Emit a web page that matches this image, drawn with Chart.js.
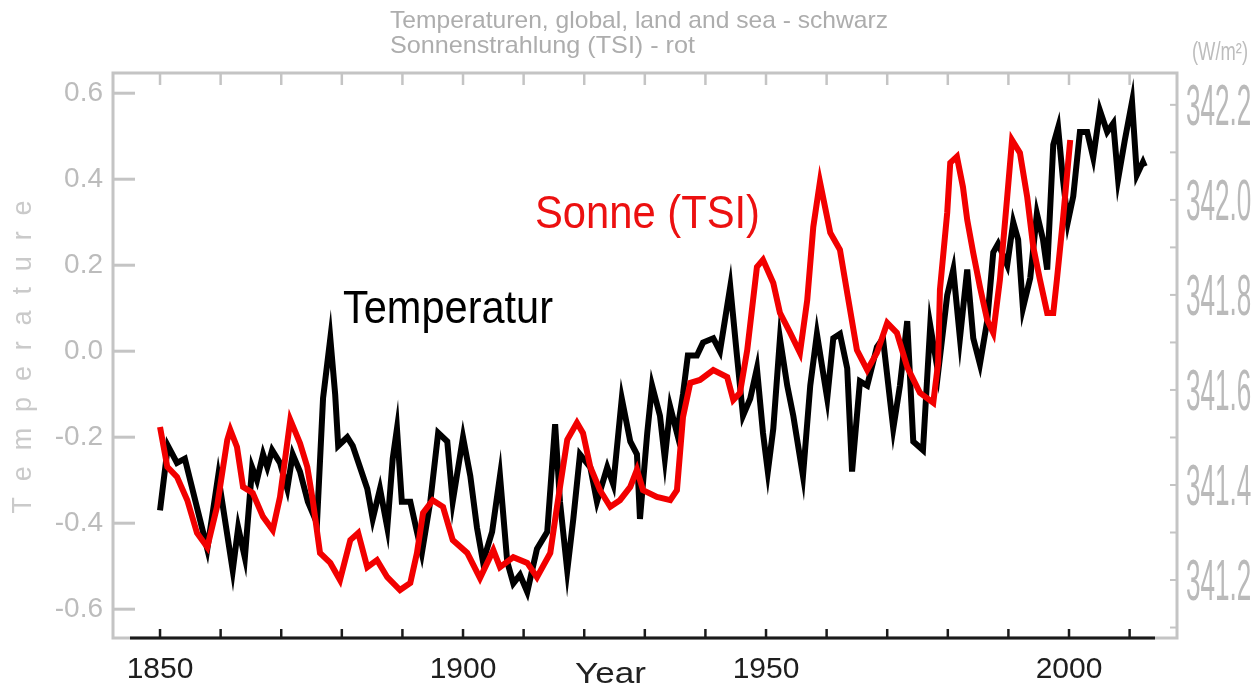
<!DOCTYPE html>
<html>
<head>
<meta charset="utf-8">
<script src="https://cdn.jsdelivr.net/npm/chart.js@4.4.1/dist/chart.umd.min.js"></script>
<style>
html,body{margin:0;padding:0;background:#fff;}
#wrap{width:1259px;height:689px;position:relative;}
</style>
</head>
<body>
<div id="wrap"><canvas id="c"></canvas></div>
<script>
// ---- data ----
const tempYears = [1850.0,1851.3,1852.8,1854.1,1857.8,1859.6,1862.0,1862.9,1864.0,1865.2,1866.0,1867.0,1867.7,1868.5,1869.8,1871.0,1871.9,1873.1,1874.4,1875.9,1876.9,1878.1,1878.9,1879.4,1880.9,1881.8,1883.0,1884.2,1885.1,1886.3,1887.5,1888.4,1889.1,1889.9,1891.3,1892.4,1893.2,1894.6,1895.9,1897.4,1898.3,1900.0,1901.2,1902.3,1903.3,1904.8,1906.1,1907.3,1908.3,1909.4,1910.6,1912.2,1913.9,1915.2,1916.0,1917.2,1918.2,1919.3,1921.0,1922.1,1923.8,1924.8,1926.2,1927.6,1928.7,1929.2,1930.4,1931.2,1932.5,1933.3,1934.2,1935.3,1936.3,1937.1,1938.6,1939.6,1941.3,1942.4,1944.1,1945.2,1946.2,1947.4,1948.5,1949.5,1950.3,1951.2,1952.3,1953.5,1954.5,1956.1,1957.3,1958.4,1960.1,1961.1,1962.2,1963.4,1964.2,1965.5,1966.7,1968.3,1969.3,1971.0,1972.1,1973.3,1974.3,1975.9,1977.1,1978.4,1979.9,1980.9,1982.0,1983.2,1984.2,1985.3,1986.5,1987.5,1988.3,1989.8,1990.8,1991.6,1992.4,1993.6,1994.7,1995.7,1996.4,1997.4,1998.2,1999.0,1999.8,2000.7,2001.8,2003.0,2004.0,2005.1,2006.3,2007.3,2008.1,2009.2,2010.4,2011.2,2012.2,2012.5];
const tempValues = [-0.37,-0.22,-0.26,-0.25,-0.46,-0.29,-0.51,-0.41,-0.48,-0.27,-0.30,-0.24,-0.27,-0.23,-0.26,-0.32,-0.24,-0.28,-0.35,-0.40,-0.11,0.03,-0.10,-0.22,-0.20,-0.22,-0.27,-0.32,-0.39,-0.32,-0.41,-0.25,-0.18,-0.35,-0.35,-0.42,-0.47,-0.35,-0.19,-0.21,-0.35,-0.20,-0.29,-0.41,-0.49,-0.42,-0.29,-0.49,-0.54,-0.52,-0.56,-0.46,-0.42,-0.17,-0.35,-0.51,-0.39,-0.24,-0.27,-0.35,-0.27,-0.31,-0.11,-0.21,-0.24,-0.39,-0.19,-0.08,-0.15,-0.25,-0.13,-0.19,-0.10,-0.01,-0.01,0.02,0.03,0.00,0.15,-0.01,-0.15,-0.11,-0.04,-0.19,-0.28,-0.18,0.03,-0.08,-0.15,-0.29,-0.08,0.04,-0.11,0.03,0.04,-0.04,-0.28,-0.07,-0.08,0.01,0.03,-0.18,-0.08,0.07,-0.21,-0.23,0.06,-0.05,0.13,0.19,0.03,0.19,0.03,-0.03,0.07,0.23,0.25,0.20,0.30,0.26,0.10,0.17,0.32,0.26,0.19,0.48,0.52,0.40,0.30,0.36,0.51,0.51,0.45,0.56,0.51,0.53,0.40,0.49,0.58,0.41,0.44,0.43];

const tsiYears = [1850.0,1851.2,1852.8,1854.5,1856.1,1857.8,1859.4,1861.1,1861.6,1862.7,1863.7,1865.3,1867.0,1868.6,1869.8,1871.5,1873.1,1874.3,1875.2,1876.4,1878.1,1879.7,1881.4,1882.7,1884.2,1885.8,1887.5,1889.6,1891.3,1892.4,1893.4,1895.0,1896.7,1898.3,1900.7,1902.8,1905.0,1906.1,1908.3,1910.6,1912.2,1914.4,1915.5,1917.2,1918.8,1919.8,1921.0,1922.6,1924.3,1925.9,1927.6,1928.7,1929.7,1932.0,1934.2,1935.3,1936.3,1937.5,1939.1,1941.3,1943.6,1944.6,1945.7,1946.9,1948.5,1949.5,1951.2,1952.3,1954.0,1955.6,1956.8,1957.8,1958.9,1960.6,1962.2,1963.4,1965.0,1966.7,1968.3,1970.0,1971.6,1973.3,1975.4,1977.6,1978.4,1978.7,1979.9,1980.4,1981.5,1982.5,1983.2,1984.2,1985.3,1986.5,1987.5,1988.6,1989.8,1990.6,1991.9,1993.1,1994.1,1995.2,1996.4,1997.4,1998.0,1999.0,2000.2];
const tsiValues = [341.522,341.438,341.417,341.368,341.299,341.269,341.354,341.495,341.516,341.480,341.396,341.383,341.333,341.305,341.375,341.537,341.488,341.438,341.368,341.257,341.236,341.200,341.284,341.299,341.227,341.242,341.206,341.179,341.194,341.257,341.341,341.368,341.354,341.284,341.257,341.204,341.263,341.227,341.248,341.236,341.206,341.257,341.354,341.495,341.531,341.509,341.438,341.389,341.354,341.368,341.396,341.432,341.389,341.375,341.368,341.389,341.543,341.615,341.621,341.642,341.627,341.579,341.594,341.684,341.859,341.874,341.825,341.762,341.720,341.678,341.789,341.943,342.038,341.931,341.895,341.804,341.684,341.642,341.678,341.741,341.720,341.648,341.594,341.573,341.657,341.811,341.973,342.078,342.091,342.027,341.958,341.888,341.817,341.747,341.720,341.832,342.006,342.126,342.099,342.006,341.901,341.832,341.762,341.762,341.832,341.958,342.126];

const titleLines = ['Temperaturen, global, land and sea - schwarz', 'Sonnenstrahlung (TSI) - rot'];
const leftAxisTitle = 'Temperature';
const rightAxisUnit = '(W/m\u00B2)';
const xAxisTitle = 'Year';
const tempLabel = 'Temperatur';
const tsiLabel = 'Sonne (TSI)';

// ---- helpers ----
const GREY = '#c4c4c4';
const FONT = '"Liberation Sans", Arial, sans-serif';
function squeezeText(ctx, text, x, y, size, color, sx, align) {
  ctx.save();
  ctx.font = size + 'px ' + FONT;
  ctx.fillStyle = color;
  ctx.textBaseline = 'alphabetic';
  ctx.textAlign = 'left';
  const w = ctx.measureText(text).width * sx;
  let x0 = x;
  if (align === 'center') x0 = x - w / 2; else if (align === 'right') x0 = x - w;
  ctx.translate(x0, y);
  ctx.scale(sx, 1);
  ctx.fillText(text, 0, 0);
  ctx.restore();
}
function fitText(ctx, text, x, y, size, color, width) {
  ctx.save();
  ctx.font = size + 'px ' + FONT;
  const sx = width / ctx.measureText(text).width;
  ctx.restore();
  squeezeText(ctx, text, x, y, size, color, sx, 'left');
}
function seg(ctx, x1, y1, x2, y2) { ctx.beginPath(); ctx.moveTo(x1, y1); ctx.lineTo(x2, y2); ctx.stroke(); }

const decor = {
  id: 'decor',
  beforeDatasetsDraw(chart) {
    const ctx = chart.ctx, a = chart.chartArea, sx = chart.scales.x, sy = chart.scales.y, sy2 = chart.scales.y2;
    ctx.save();
    ctx.strokeStyle = GREY;
    ctx.lineWidth = 3;
    ctx.strokeRect(a.left, a.top, a.right - a.left, a.bottom - a.top);
    ctx.lineWidth = 2.5;
    sx.ticks.forEach(t => { const p = sx.getPixelForValue(t.value); seg(ctx, p, a.top, p, a.top + 12); });
    ctx.lineWidth = 3;
    sy.ticks.forEach(t => { const p = sy.getPixelForValue(t.value); seg(ctx, a.left, p, a.left + 22, p); });
    ctx.lineWidth = 2;
    sy2.ticks.forEach(t => { const p = sy2.getPixelForValue(t.value); seg(ctx, a.right - 7, p, a.right, p); });
    ctx.restore();
  },
  afterDraw(chart) {
    const ctx = chart.ctx, a = chart.chartArea, sx = chart.scales.x, sy2 = chart.scales.y2;
    ctx.save();
    // black bottom axis
    ctx.strokeStyle = '#1a1a1a';
    ctx.lineWidth = 3;
    seg(ctx, a.left + 17, a.bottom, a.right - 22, a.bottom);
    ctx.lineWidth = 2.5;
    sx.ticks.forEach(t => { const p = sx.getPixelForValue(t.value); seg(ctx, p, a.bottom, p, a.bottom - 9); });
    ctx.restore();

    // right axis labels (condensed)
    sy2.ticks.forEach(t => {
      if (!t.label) return;
      const p = sy2.getPixelForValue(t.value);
      squeezeText(ctx, t.label, a.right + 9, p + 20, 58, '#bababa', 0.45, 'left');
    });
    fitText(ctx, rightAxisUnit, 1192, 60, 26, '#bdbdbd', 56);

    // left axis title, letter spaced, rotated
    ctx.save();
    ctx.font = '27px ' + FONT;
    ctx.fillStyle = '#cacaca';
    ctx.textBaseline = 'alphabetic';
    const letters = leftAxisTitle.split('');
    const widths = letters.map(l => ctx.measureText(l).width);
    const total = 313;
    const gap = (total - widths.reduce((s, w) => s + w, 0)) / (letters.length - 1);
    ctx.translate(21, 357);
    ctx.rotate(-Math.PI / 2);
    let cx = -total / 2;
    letters.forEach((l, i) => { ctx.fillText(l, cx, 9.5); cx += widths[i] + gap; });
    ctx.restore();

    // titles
    fitText(ctx, titleLines[0], 390, 28, 24, '#adadad', 498);
    fitText(ctx, titleLines[1], 390, 53, 24, '#adadad', 305);

    // annotations
    fitText(ctx, tempLabel, 343, 323, 46, '#000000', 210);
    fitText(ctx, tsiLabel, 535, 228, 46, '#ec1010', 225);
    fitText(ctx, xAxisTitle, 575, 683, 30, '#222222', 71);
  }
};

const tempPoints = tempYears.map((yr, i) => ({ x: yr, y: tempValues[i] }));
const tsiPoints = tsiYears.map((yr, i) => ({ x: yr, y: tsiValues[i] }));

new Chart(document.getElementById('c'), {
  type: 'line',
  data: {
    datasets: [
      { label: tsiLabel, data: tsiPoints, yAxisID: 'y2', borderColor: '#f20000', borderWidth: 6, pointRadius: 0, tension: 0, fill: false },
      { label: tempLabel, data: tempPoints, yAxisID: 'y', borderColor: '#000000', borderWidth: 6, pointRadius: 0, tension: 0, fill: false }
    ]
  },
  options: {
    responsive: true,
    maintainAspectRatio: false,
    animation: false,
    events: [],
    layout: { padding: { top: 73, left: 0, right: 0, bottom: 0 } },
    plugins: { legend: { display: false }, tooltip: { enabled: false }, title: { display: false } },
    scales: {
      x: {
        type: 'linear', min: 1842.24, max: 2017.82,
        grid: { display: false, drawTicks: false }, border: { display: false },
        ticks: {
          stepSize: 10, includeBounds: false, autoSkip: false, maxRotation: 0, padding: 14,
          color: '#1e1e1e', font: { family: FONT, size: 30 },
          callback: v => (Math.round(v) % 50 === 0 ? String(Math.round(v)) : '')
        },
        afterFit: s => { s.height = 51; }
      },
      y: {
        position: 'left', min: -0.667, max: 0.647,
        grid: { display: false, drawTicks: false }, border: { display: false },
        ticks: {
          stepSize: 0.2, includeBounds: false, padding: 10,
          color: '#bcbcbc', font: { family: FONT, size: 28 },
          callback: v => (Math.abs(v) < 1e-9 ? '0.0' : v.toFixed(1))
        },
        afterFit: s => { s.width = 113; }
      },
      y2: {
        position: 'right', min: 341.078, max: 342.267,
        grid: { display: false, drawTicks: false }, border: { display: false },
        ticks: {
          display: false, stepSize: 0.1, includeBounds: false,
          callback: v => (Math.round(v * 10) % 2 === 0 ? v.toFixed(1) : '')
        },
        afterFit: s => { s.width = 82; }
      }
    }
  },
  plugins: [decor]
});
</script>
</body>
</html>
